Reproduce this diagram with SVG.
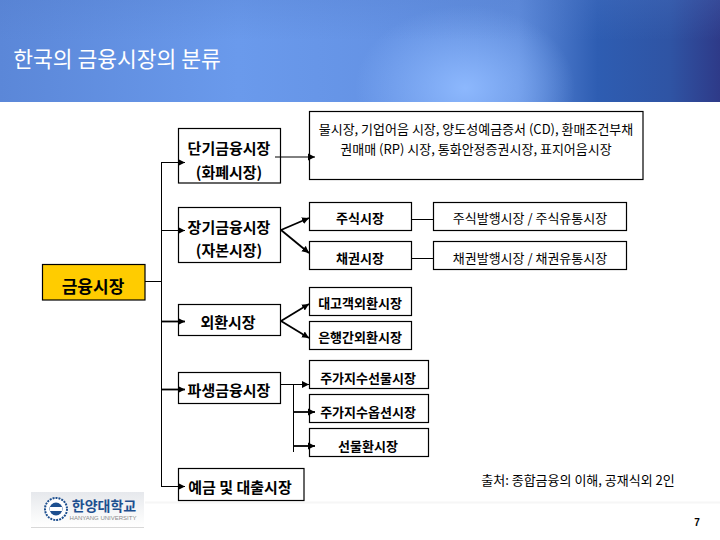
<svg xmlns="http://www.w3.org/2000/svg" width="720" height="540" viewBox="0 0 720 540">
<style>
text{font-family:"Noto Sans CJK KR","Noto Sans",sans-serif;fill:#000;text-anchor:middle;dominant-baseline:central}
.box{fill:#fff;stroke:#000;stroke-width:1.2}
.b14{font-size:15px;font-weight:700}
.b12{font-size:13px;font-weight:700}
.r12{font-size:13px}
.c{fill:none;stroke:#000;stroke-width:1}
.t{stroke-width:1.8}
.a{marker-end:url(#h)}
</style>
<defs>
<linearGradient id="bg" x1="0" x2="1" y1="0" y2="0">
<stop offset="0" stop-color="#5b87d8"/><stop offset=".33" stop-color="#6a9aec"/><stop offset=".55" stop-color="#6492e4"/><stop offset=".72" stop-color="#5f8cdc"/><stop offset=".83" stop-color="#2e5db2"/><stop offset=".93" stop-color="#2f54a4"/><stop offset="1" stop-color="#2e3a88"/>
</linearGradient>
<radialGradient id="spot" cx="465" cy="88" r="110" gradientUnits="userSpaceOnUse" gradientTransform="translate(465 88) scale(1 .75) translate(-465 -88)">
<stop offset="0" stop-color="#8fbaff" stop-opacity=".95"/><stop offset="1" stop-color="#8fbaff" stop-opacity="0"/>
</radialGradient>
<linearGradient id="edge" x1="0" x2="0" y1="0" y2="1">
<stop offset="0" stop-color="#5079c8" stop-opacity=".25"/><stop offset=".4" stop-color="#5079c8" stop-opacity="0"/>
</linearGradient>
<linearGradient id="logo" x1="0" x2="0" y1="0" y2="1">
<stop offset="0" stop-color="#e6e8ec"/><stop offset=".6" stop-color="#f6f7f8"/><stop offset="1" stop-color="#fff"/>
</linearGradient>
<marker id="h" markerUnits="userSpaceOnUse" markerWidth="8" markerHeight="8" refX="7" refY="4" orient="auto">
<path d="M0 .5L7 4L0 7.5z" fill="#000"/>
</marker>
</defs>

<g id="header">
<rect width="720" height="102" fill="url(#bg)"/>
<rect width="720" height="102" fill="url(#spot)"/>
<rect width="720" height="102" fill="url(#edge)"/>
<text x="117" y="57" style="font-size:21.500px;fill:#fff">한국의 금융시장의 분류</text>
</g>
<path d="M145 502.500H720" stroke="#f6f6f6" stroke-width="2" fill="none"/>

<g id="n-money-short"><rect class="box" x="178.500" y="128.500" width="102" height="54.500"/><text class="b14" x="229" y="147">단기금융시장</text><text class="b14" x="229" y="171">(화폐시장)</text></g>
<g id="n-money-detail"><rect class="box" x="309.500" y="111.500" width="333.500" height="68"/><text class="r12" x="476" y="128">물시장, 기업어음 시장, 양도성예금증서 (CD), 환매조건부채</text><text class="r12" x="476" y="148">권매매 (RP) 시장, 통화안정증권시장, 표지어음시장</text></g>
<g id="n-capital"><rect class="box" x="178.500" y="207.500" width="102" height="55"/><text class="b14" x="229" y="226">장기금융시장</text><text class="b14" x="229" y="249">(자본시장)</text></g>
<g id="n-stock"><rect class="box" x="309.500" y="202.500" width="102" height="28"/><text class="b12" x="360" y="217">주식시장</text></g>
<g id="n-bond"><rect class="box" x="309.500" y="241.500" width="102" height="28"/><text class="b12" x="360" y="257">채권시장</text></g>
<g id="n-stock-detail"><rect class="box" x="433.500" y="202.500" width="193" height="28"/><text class="r12" x="530" y="217">주식발행시장 / 주식유통시장</text></g>
<g id="n-bond-detail"><rect class="box" x="433.500" y="241.500" width="193" height="28"/><text class="r12" x="530" y="257">채권발행시장 / 채권유통시장</text></g>
<g id="n-root"><rect x="42.500" y="264.500" width="102.500" height="35.500" fill="#ffcc00" stroke="#000" stroke-width="1.200"/><text x="93" y="285" style="font-size:17px;font-weight:700">금융시장</text></g>
<g id="n-fx"><rect class="box" x="178.500" y="304.500" width="102" height="31"/><text class="b14" x="228" y="321">외환시장</text></g>
<g id="n-fx-client"><rect class="box" x="309.500" y="287.500" width="102" height="28"/><text class="b12" x="360" y="302">대고객외환시장</text></g>
<g id="n-fx-bank"><rect class="box" x="309.500" y="321.500" width="102" height="28"/><text class="b12" x="360" y="336">은행간외환시장</text></g>
<g id="n-deriv"><rect class="box" x="178.500" y="372.500" width="102" height="31"/><text class="b14" x="229" y="389">파생금융시장</text></g>
<g id="n-futures"><rect class="box" x="309.500" y="360.500" width="119" height="28"/><text class="b12" x="368" y="377">주가지수선물시장</text></g>
<g id="n-options"><rect class="box" x="309.500" y="394.500" width="119" height="28"/><text class="b12" x="368" y="411">주가지수옵션시장</text></g>
<g id="n-forward"><rect class="box" x="309.500" y="428.500" width="119" height="28"/><text class="b12" x="368" y="445">선물환시장</text></g>
<g id="n-loans"><rect class="box" x="178.500" y="468.500" width="125.500" height="32"/><text class="b14" x="240" y="486">예금 및 대출시장</text></g>

<g id="connectors">
<path class="c" d="M145 281.500H161.500M161.500 162V486"/>
<path class="c a" d="M161 162.500H185"/>
<path class="c a" d="M161 230.500H185"/>
<path class="c t a" d="M161 321.500H185"/>
<path class="c t a" d="M161 389.500H185"/>
<path class="c a" d="M161 486.500H185"/>
<path class="c a" d="M275 157H315"/>
<path class="c t a" d="M281 230L309 218"/>
<path class="c t a" d="M281 230L309 253"/>
<path class="c" d="M412 219.500H433M412 258.500H433"/>
<path class="c t a" d="M281 321L309 304"/>
<path class="c t a" d="M281 321L309 338"/>
<path class="c a" d="M280 384.500H309"/>
<path class="c" d="M293.500 384V452"/>
<path class="c t a" d="M293 412H315"/>
<path class="c t a" d="M293 446H315"/>
</g>

<text class="r12" x="578" y="479">출처: 종합금융의 이해, 공재식외 2인</text>
<text x="697" y="522" style="font-family:'Liberation Sans',sans-serif;font-size:10px;font-weight:700">7</text>

<g id="logo-mark">
<rect x="31" y="492" width="113" height="35" fill="url(#logo)"/>
<path d="M31 527.500H144" stroke="#d8d8d8" fill="none"/>
<circle cx="56" cy="509" r="11" fill="#fff" stroke="#1d4f8f" stroke-width="2" stroke-dasharray="2 1"/>
<circle cx="56" cy="509" r="6.500" fill="#1d4f8f"/>
<rect x="50" y="507" width="12" height="4" fill="#fff"/>
<text x="104" y="505" style="font-size:14px;font-weight:700;fill:#1d4f8f">한양대학교</text>
<text x="103" y="518" style="font-family:'Liberation Sans',sans-serif;font-size:6px;fill:#8a8a8a">HANYANG UNIVERSITY</text>
</g>
</svg>
